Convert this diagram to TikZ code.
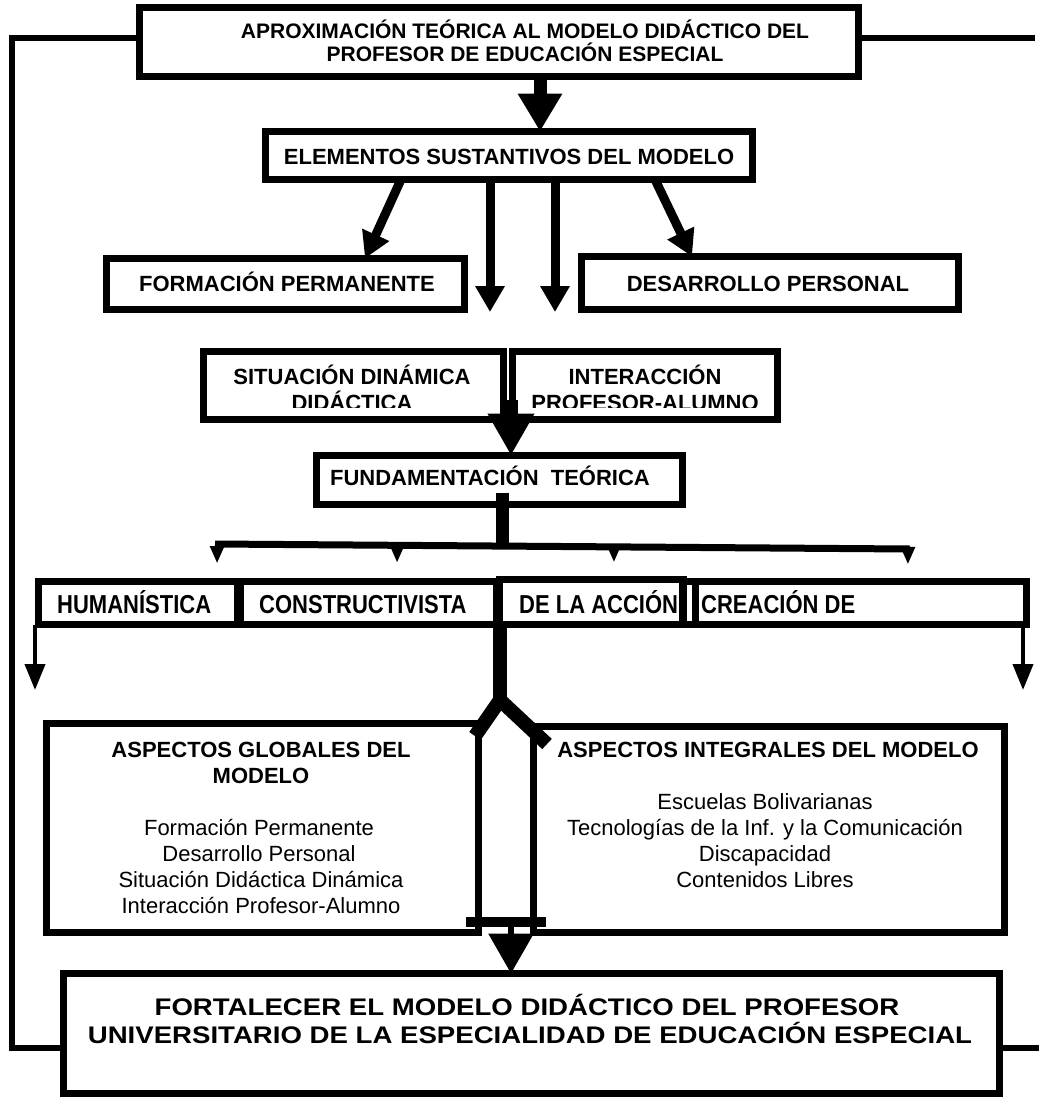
\documentclass[tikz,border=0pt]{standalone}
\usepackage{fontspec}
\setmainfont{Liberation Sans}
\usepackage{graphicx}
\usetikzlibrary{arrows.meta,calc}
\newcommand{\tallrow}[1]{\scalebox{1}[1.18]{#1}}
\begin{document}
\begin{tikzpicture}[x=1pt,y=-1pt,
  box/.style={draw, line width=7pt, inner sep=0pt, outer sep=0pt, anchor=north west},
  lab/.style={font=\fontsize{22}{26}\selectfont\bfseries, inner sep=0pt, anchor=base},
  labw/.style={lab, anchor=base west},
  body/.style={font=\fontsize{22}{26}\selectfont, inner sep=0pt, anchor=base},
  ttl/.style={font=\fontsize{21}{24}\selectfont\bfseries, inner sep=0pt, anchor=base},
  big/.style={font=\fontsize{24}{28}\selectfont\bfseries, inner sep=0pt, anchor=base},
  fb/.style={line width=6pt},
  bigar/.style={line width=13pt, -{Triangle[width=42pt,length=38pt]}},
  midar/.style={line width=9pt, -{Triangle[width=28pt,length=26pt]}},
  smar/.style={line width=3pt, -{Triangle[width=14pt,length=17pt]}},
  sidear/.style={line width=4pt, -{Triangle[width=20pt,length=26pt]}}
]
\useasboundingbox (0,0) rectangle (1039,1101);

% ---------- boxes ----------
\node[box, minimum width=719pt, minimum height=69pt] (top) at (139.5,7.5) {};
\node[box, minimum width=487pt, minimum height=48pt] (elem) at (265.5,131.5) {};
\node[box, minimum width=358pt, minimum height=51pt] (form) at (106.5,258.5) {};
\node[box, minimum width=377pt, minimum height=53pt] (desa) at (581.5,256.5) {};
\node[box, minimum width=300pt, minimum height=68pt] (sit) at (203.5,351.5) {};
\node[box, minimum width=265pt, minimum height=68pt] (inter) at (512.5,351.5) {};
\node[box, minimum width=366pt, minimum height=49pt] (fund) at (316.5,455.5) {};
\node[box, minimum width=199pt, minimum height=43pt] (hum) at (38.5,581.5) {};
\node[box, minimum width=256pt, minimum height=43pt] (cons) at (240.5,581.5) {};
\node[box, minimum width=184pt, minimum height=45pt] (dela) at (499.5,579.5) {};
\node[box, minimum width=344pt, minimum height=43pt] (crea) at (682.5,581.5) {};
\node[box, minimum width=432pt, minimum height=209pt] (glob) at (46.5,723.5) {};
\node[box, minimum width=471pt, minimum height=206pt] (integ) at (533.5,726.5) {};
\node[box, minimum width=936pt, minimum height=120pt] (bottom) at (63.5,973.5) {};
% inner divider of the small cell between the two last boxes
\draw[line width=7pt] ($(crea.north west)+(13,0)$) -- ($(crea.south west)+(13,0)$);

% ---------- texts ----------
\node[ttl] (t1) at (525,38) {APROXIMACIÓN TEÓRICA AL MODELO DIDÁCTICO DEL};
\node[ttl] (t2) at (525,61) {PROFESOR DE EDUCACIÓN ESPECIAL};
\node[lab] (elemt) at (509,164) {ELEMENTOS SUSTANTIVOS DEL MODELO};
\node[lab] (formt) at (287,291) {FORMACIÓN PERMANENTE};
\node[lab] (desat) at (768,291) {DESARROLLO PERSONAL};
\begin{scope}
  \clip (200,340) rectangle (790,407);
  \node[lab] (sit1) at (352,384) {SITUACIÓN DINÁMICA};
  \node[lab] (sit2) at (352,410) {DIDÁCTICA};
  \node[lab] (int1) at (645,384) {INTERACCIÓN};
  \node[lab] (int2) at (645,410) {PROFESOR-ALUMNO};
\end{scope}
\node[lab] (fundt) at (490,485) {FUNDAMENTACIÓN\ \ TEÓRICA};
\node[labw] (humt) at (57,613) {\tallrow{HUMANÍSTICA}};
\node[labw] (const) at (259,613) {\tallrow{CONSTRUCTIVISTA}};
\node[labw] (delat) at (519,613) {\tallrow{DE LA ACCIÓN}};
\node[labw] (creat) at (701,613) {\tallrow{CREACIÓN DE}};

\node[lab] (g1) at (261,757) {ASPECTOS GLOBALES DEL};
\node[lab] (g2) at (261,783) {MODELO};
\node[body] (g3) at (259,835) {Formación Permanente};
\node[body] (g4) at (259,861) {Desarrollo Personal};
\node[body] (g5) at (261,887) {Situación Didáctica Dinámica};
\node[body] (g6) at (261,913) {Interacción Profesor-Alumno};

\node[lab] (i1) at (768,757) {ASPECTOS INTEGRALES DEL MODELO};
\node[body] (i2) at (765,809) {Escuelas Bolivarianas};
\node[body] (i3) at (765,835) {Tecnologías de la Inf. y la Comunicación};
\node[body] (i4) at (765,861) {Discapacidad};
\node[body] (i5) at (765,887) {Contenidos Libres};

\node[big] (b1) at (527,1015) {\scalebox{1.15}[1]{FORTALECER EL MODELO DIDÁCTICO DEL PROFESOR}};
\node[big] (b2) at (530,1043) {\scalebox{1.15}[1]{UNIVERSITARIO DE LA ESPECIALIDAD DE EDUCACIÓN ESPECIAL}};

% ---------- feedback lines ----------
\coordinate (fbL) at (12,38);
\coordinate (fbLb) at (12,1048);
\coordinate (fbR) at (1035,38);
\coordinate (fbRb) at (1039,1048);
\draw[fb] (fbL -| top.west) -- (fbL) -- (fbLb) -- (fbLb -| bottom.west);
\draw[fb] (fbR -| top.east) -- (fbR);
\draw[fb] (fbRb -| bottom.east) -- (fbRb);

% ---------- arrows ----------
\coordinate (xa) at (540,0);
\draw[bigar] (xa |- top.south) -- (xa |- elem.north);

\coordinate (d1) at (401,0);
\coordinate (d2) at (365,0);
\coordinate (d3) at (655,0);
\coordinate (d4) at (692,0);
\coordinate (v1) at (490,312);
\coordinate (v2) at (555,312);
\draw[midar] (d1 |- elem.south) -- (d2 |- form.north);
\draw[midar] (v1 |- elem.south) -- (v1);
\draw[midar] (v2 |- elem.south) -- (v2);
\draw[midar] (d3 |- elem.south) -- (d4 |- desa.north);

\coordinate (s1) at (511,400);
\draw[line width=13pt, -{Triangle[width=44pt,length=42pt]}] (s1) -- (s1 |- fund.north);

\coordinate (fs) at (502,546);
\draw[line width=13pt] ($(fs |- fund.south)+(0,-12)$) -- (fs);
\coordinate (bl) at (215,544);
\coordinate (br) at (910,549);
\draw[line width=7pt] (bl) -- (br);
\draw[smar] ($(bl)!0.003!(br)$) -- ++(0,19);
\draw[smar] ($(bl)!0.262!(br)$) -- ++(0,17);
\draw[smar] ($(bl)!0.574!(br)$) -- ++(0,15);
\draw[smar] ($(bl)!0.997!(br)$) -- ++(0,15);

\coordinate (ea) at (35,690);
\coordinate (eb) at (1023,690);
\draw[sidear] (ea |- hum.south) -- (ea);
\draw[sidear] (eb |- crea.south) -- (eb);

\coordinate (yc) at (500,700);
\coordinate (yl) at (475,736);
\coordinate (yr) at (547,744);
\draw[line width=14pt] (yc |- cons.south) -- (yc);
\draw[line width=14pt, line join=miter] (yl) -- (yc) -- (yr);

\coordinate (hb1) at (466,922);
\coordinate (hb2) at (546,922);
\draw[line width=10pt] (hb1) -- (hb2);
\coordinate (ba) at (511,922);
\draw[line width=6pt, -{Triangle[width=44pt,length=40pt]}] (ba) -- (ba |- bottom.north);
\end{tikzpicture}
\end{document}
